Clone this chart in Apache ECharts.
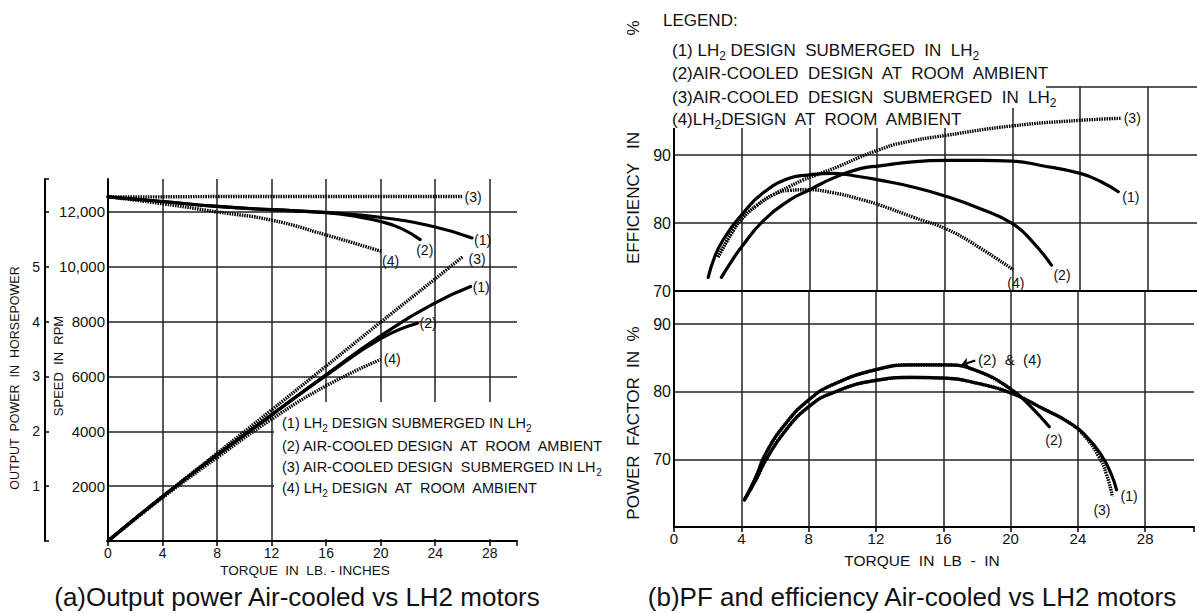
<!DOCTYPE html>
<html><head><meta charset="utf-8">
<script src="https://cdn.jsdelivr.net/npm/echarts@6/dist/echarts.min.js"></script>
<style>html,body{margin:0;padding:0;background:#fff}#c{width:1197px;height:613px}</style>
</head><body><div id="c"></div>
<script>
// ---------- (a) Output power / speed vs torque ----------
const torqueTicksA = [0, 4, 8, 12, 16, 20, 24, 28];
const rpmTicks = [2000, 4000, 6000, 8000, 10000, 12000];
const hpTicks = [1, 2, 3, 4, 5];

const speedTorque1 = [0, 4, 8, 12, 16, 20, 24, 26.7];
const speed1       = [12550, 12380, 12200, 12080, 11980, 11800, 11450, 11050];
const speedTorque2 = [0, 4, 8, 12, 16, 18, 20, 21.5, 22.9];
const speed2       = [12550, 12380, 12200, 12080, 11970, 11850, 11650, 11400, 10990];
const speedTorque3 = [0, 4, 8, 12, 16, 20, 24, 26.0];
const speed3       = [12550, 12550, 12560, 12560, 12560, 12560, 12560, 12560];
const speedTorque4 = [0, 4, 8, 12, 16, 20.1];
const speed4       = [12550, 12300, 12000, 11700, 11160, 10550];

const powerTorque1 = [0, 4, 8, 12, 16, 20, 24, 26.6];
const power1       = [0, 0.81, 1.57, 2.30, 3.03, 3.74, 4.34, 4.64];
const powerTorque2 = [0, 4, 8, 12, 16, 20, 22.7];
const power2       = [0, 0.81, 1.57, 2.30, 3.02, 3.69, 3.97];
const powerTorque3 = [0, 4, 8, 12, 16, 20, 24, 26.0];
const power3       = [0, 0.81, 1.60, 2.39, 3.19, 3.99, 4.78, 5.18];
const powerTorque4 = [0, 4, 8, 12, 16, 20.0];
const power4       = [0, 0.79, 1.52, 2.22, 2.83, 3.31];

// ---------- (b) Efficiency and power factor vs torque ----------
const torqueTicksB = [0, 4, 8, 12, 16, 20, 24, 28];
const effTicks = [70, 80, 90];
const pfTicks = [70, 80, 90];

const effTorque1 = [2.8, 3.3, 4.0, 5.3, 6.85, 7.95, 9.4, 11, 12.15, 14.1, 16.1, 18.1, 20.0, 21.6, 24.0, 25.2, 26.25];
const eff1       = [72.0, 74.0, 76.5, 80.4, 83.4, 84.8, 86.6, 88.0, 88.4, 89.0, 89.2, 89.2, 89.1, 88.5, 87.3, 86.1, 84.6];
const effTorque2 = [2.02, 2.4, 2.9, 4.0, 5.25, 6.85, 7.9, 9.4, 11, 12.15, 14.1, 16.1, 18.1, 20.0, 21.2, 22.3];
const eff2       = [72.0, 75.0, 77.5, 81.2, 84.4, 86.6, 87.05, 87.3, 86.8, 86.3, 85.3, 83.9, 82.1, 79.9, 77.2, 73.8];
const effTorque3 = [2.6, 3.5, 4.0, 4.9, 5.9, 6.85, 7.6, 8.4, 9.8, 11, 12.15, 13.3, 16.1, 20.05, 24.0, 26.45];
const eff3       = [75.0, 78.9, 80.6, 82.6, 84.2, 85.4, 86.3, 87.05, 88.4, 89.7, 90.8, 91.7, 92.9, 94.3, 95.1, 95.4];
const effTorque4 = [2.6, 3.5, 4.0, 4.9, 5.9, 6.85, 7.85, 9.4, 11, 12.2, 14.2, 16.2, 18.1, 20.05];
const eff4       = [75.0, 78.9, 80.6, 82.6, 84.2, 84.8, 84.9, 84.45, 83.5, 82.6, 80.8, 79.0, 76.3, 73.1];

const pfTorque1 = [4.18, 4.87, 5.46, 6.64, 8.02, 9.4, 12.06, 14.1, 16.1, 18.1, 20.03, 22.0, 23.5, 24.5, 25.4, 25.95, 26.3];
const pf1       = [64.0, 67.0, 69.9, 74.3, 77.8, 79.8, 81.7, 82.1, 82.0, 81.2, 79.8, 77.4, 75.4, 73.4, 70.6, 68.0, 65.5];
const pfTorque2 = [4.18, 4.87, 5.46, 6.64, 8.02, 9.4, 12.06, 14.1, 16.1, 18.1, 20.03, 21.2, 22.3];
const pf2       = [64.0, 67.4, 70.9, 75.3, 78.8, 81.0, 83.3, 83.95, 83.95, 83.0, 80.35, 77.8, 74.8];
const pfTorque3 = [4.18, 4.87, 5.46, 6.64, 8.02, 9.4, 12.06, 14.1, 16.1, 18.1, 20.03, 22.0, 23.5, 24.4, 25.2, 25.7, 26.05];
const pf3       = [64.0, 67.0, 69.9, 74.3, 77.8, 79.8, 81.7, 82.1, 82.0, 81.2, 79.8, 77.4, 75.4, 73.4, 70.6, 67.8, 64.5];
const pfTorque4 = [4.18, 4.87, 5.46, 6.64, 8.02, 9.4, 12.06, 14.1, 16.1, 18.1, 20.03];
const pf4       = [64.0, 67.4, 70.9, 75.3, 78.8, 81.0, 83.3, 83.95, 83.95, 83.0, 80.35];
const pfNoteArrow = [[17.05, 83.9], [17.9, 84.6]];

// ---------- styling ----------
const F = '"Liberation Sans", Arial, sans-serif';
const INK = '#111';
const GRIDC = '#222';
const pairs = (xs, ys) => xs.map((x, i) => [x, ys[i]]);

function line(name, xs, ys, xi, yi, dotted, lbl) {
  const s = {
    name, type: 'line', xAxisIndex: xi, yAxisIndex: yi,
    data: pairs(xs, ys), showSymbol: false, symbol: 'none',
    smooth: 0.5, clip: false,
    z: dotted ? 3 : 4,
    lineStyle: dotted
      ? { color: '#000', width: 3.4, type: [1.5, 1], cap: 'butt' }
      : { color: '#000', width: 3.2, cap: 'round' },
    emphasis: { disabled: true }
  };
  if (lbl) {
    s.endLabel = {
      show: true, formatter: lbl.t, color: INK, fontSize: 14, fontFamily: F,
      distance: lbl.d == null ? 2 : lbl.d, offset: lbl.o || [0, 0]
    };
  }
  return s;
}

const axisLine = { show: true, lineStyle: { color: '#000', width: 2 } };
const split = { show: true, lineStyle: { color: GRIDC, width: 1.5 } };

function xAx(gi, max, ticks, showLabel, fs, margin) {
  return {
    type: 'value', gridIndex: gi, min: 0, max: max, interval: 4,
    axisLine: axisLine,
    axisTick: { show: showLabel, length: 5, lineStyle: { color: '#000', width: 1.5 } },
    axisLabel: {
      show: showLabel, color: INK, fontSize: fs, fontFamily: F, margin: margin,
      formatter: v => ticks.includes(v) ? String(v) : ''
    },
    splitLine: Object.assign({ showMaxLine: false }, split)
  };
}

const option = {
  animation: false,
  backgroundColor: '#fff',
  textStyle: { fontFamily: F },
  grid: [
    { left: 108, top: 179, width: 409, height: 362 },
    { left: 674, top: 87, width: 523, height: 204 },
    { left: 674, top: 291, width: 523, height: 236 }
  ],
  xAxis: [
    xAx(0, 30, torqueTicksA, true, 14, 5),
    xAx(1, 30.9, torqueTicksB, false, 15, 3),
    xAx(2, 30.9, torqueTicksB, true, 15, 4)
  ],
  yAxis: [
    { type: 'value', gridIndex: 0, min: 0, max: 13200, interval: 2000,
      axisLine: axisLine, axisTick: { show: false },
      axisLabel: { color: INK, fontSize: 15, fontFamily: F, margin: 3,
        formatter: v => rpmTicks.includes(v) ? (v >= 10000 ? v.toLocaleString('en-US') : String(v)) : '' },
      splitLine: Object.assign({ showMaxLine: false, showMinLine: false }, split) },
    { type: 'value', gridIndex: 0, min: 0, max: 6.6, interval: 1, position: 'left', offset: 63,
      axisLine: axisLine,
      axisTick: { show: true, inside: true, length: 4, lineStyle: { color: '#000', width: 1.5 } },
      axisLabel: { color: INK, fontSize: 14, fontFamily: F, margin: 5,
        formatter: v => hpTicks.includes(v) ? String(v) : '' },
      splitLine: { show: false } },
    { type: 'value', gridIndex: 1, min: 70, max: 100, interval: 10,
      axisLine: axisLine, axisTick: { show: false },
      axisLabel: { color: INK, fontSize: 16, fontFamily: F, margin: 3,
        formatter: v => effTicks.includes(v) ? String(v) : '' },
      splitLine: Object.assign({ showMaxLine: true, showMinLine: false }, split) },
    { type: 'value', gridIndex: 2, min: 60, max: 94.88, interval: 10,
      axisLine: axisLine, axisTick: { show: false },
      axisLabel: { color: INK, fontSize: 16, fontFamily: F, margin: 3,
        formatter: v => pfTicks.includes(v) ? String(v) : '' },
      splitLine: Object.assign({ showMaxLine: false, showMinLine: false }, split) }
  ],
  series: [
    // (a) speed
    line('Speed (3)', speedTorque3, speed3, 0, 0, true, { t: '(3)', d: 2 }),
    line('Speed (4)', speedTorque4, speed4, 0, 0, true, { t: '(4)', d: 0, o: [0, 9] }),
    line('Speed (2)', speedTorque2, speed2, 0, 0, false, { t: '(2)', d: 0, o: [-4, 10] }),
    line('Speed (1)', speedTorque1, speed1, 0, 0, false, { t: '(1)', d: 2, o: [0, 2] }),
    // (a) output power
    line('Power (3)', powerTorque3, power3, 0, 1, true, { t: '(3)', d: 6, o: [0, 2] }),
    line('Power (4)', powerTorque4, power4, 0, 1, true, { t: '(4)', d: 3 }),
    line('Power (2)', powerTorque2, power2, 0, 1, false, { t: '(2)', d: 2 }),
    line('Power (1)', powerTorque1, power1, 0, 1, false, { t: '(1)', d: 2 }),
    // (b) efficiency
    line('Eff (3)', effTorque3, eff3, 1, 2, true, { t: '(3)', d: 2 }),
    line('Eff (4)', effTorque4, eff4, 1, 2, true, { t: '(4)', d: 0, o: [-6, 13] }),
    line('Eff (2)', effTorque2, eff2, 1, 2, false, { t: '(2)', d: 2, o: [0, 10] }),
    line('Eff (1)', effTorque1, eff1, 1, 2, false, { t: '(1)', d: 4, o: [0, 5] }),
    // (b) power factor
    line('PF (4)', pfTorque4, pf4, 2, 3, true, null),
    line('PF (3)', pfTorque3, pf3, 2, 3, true, { t: '(3)', d: 0, o: [-19, 13] }),
    Object.assign(line('PF (2)', pfTorque2, pf2, 2, 3, false, { t: '(2)', d: 0, o: [-4, 13] }), {
      markLine: {
        silent: true, symbol: ['arrow', 'none'], symbolSize: [8, 8], animation: false,
        lineStyle: { color: '#000', width: 2, type: 'solid' },
        label: { show: true, position: 'end', formatter: '(2)  &  (4)', color: INK, fontSize: 15, fontFamily: F, distance: 3 },
        data: [[{ coord: pfNoteArrow[0] }, { coord: pfNoteArrow[1] }]]
      }
    }),
    line('PF (1)', pfTorque1, pf1, 2, 3, false, { t: '(1)', d: 4, o: [0, 6] })
  ],
  graphic: { elements: [] }
};

// white masks where the original grid is interrupted by the legends
const masks = [
  { x: 274, y: 402, width: 256, height: 137 },
  { x: 655, y: 70, width: 352, height: 58 },
  { x: 1007, y: 70, width: 39, height: 38 }
];
masks.forEach(m => option.graphic.elements.push({
  type: 'rect', shape: m, style: { fill: '#fff' }, z: 1, silent: true
}));

function txt(t, x, y, size, opts) {
  opts = opts || {};
  const st = {
    text: t, fill: INK, fontSize: size, fontFamily: F,
    align: opts.align || 'center', verticalAlign: 'middle',
    textAlign: opts.align || 'center', textVerticalAlign: 'middle'
  };
  if (opts.rich) {
    st.lineHeight = opts.lh;
    st.rich = { s: { fontSize: opts.sub, lineHeight: opts.sub, verticalAlign: 'bottom', fill: INK, fontFamily: F } };
  }
  option.graphic.elements.push({
    type: 'text', x: x, y: y, rotation: opts.rot || 0, z: 5, silent: true, style: st
  });
}

// (a) texts
const legendA = [
  '(1) LH{s|2} DESIGN SUBMERGED IN LH{s|2}',
  '(2) AIR-COOLED DESIGN  AT  ROOM  AMBIENT',
  '(3) AIR-COOLED DESIGN  SUBMERGED IN LH{s|2}',
  '(4) LH{s|2} DESIGN  AT  ROOM  AMBIENT'
];
const legendAY = [423, 446, 467, 488];
legendA.forEach((t, i) => txt(t, 282, legendAY[i], 14.5, { align: 'left', rich: true, lh: 20, sub: 10 }));
txt('TORQUE  IN  LB. - INCHES', 305, 570, 13.5);
txt('SPEED  IN  RPM', 58, 366, 13, { rot: Math.PI / 2 });
txt('OUTPUT  POWER  IN  HORSEPOWER', 15, 378, 12.5, { rot: Math.PI / 2 });
txt('(a)Output power Air-cooled vs LH2 motors', 297, 597, 26);

// (b) texts
txt('LEGEND:', 663, 20, 17, { align: 'left' });
const legendB = [
  '(1) LH{s|2} DESIGN  SUBMERGED  IN  LH{s|2}',
  '(2)AIR-COOLED  DESIGN  AT  ROOM  AMBIENT',
  '(3)AIR-COOLED  DESIGN  SUBMERGED  IN  LH{s|2}',
  '(4)LH{s|2}DESIGN  AT  ROOM  AMBIENT'
];
const legendBY = [50, 73, 97, 119];
legendB.forEach((t, i) => txt(t, 672, legendBY[i], 17, { align: 'left', rich: true, lh: 24, sub: 12 }));
txt('EFFICIENCY   IN', 633, 198, 17, { rot: Math.PI / 2 });
txt('%', 633, 28, 17, { rot: Math.PI / 2 });
txt('POWER  FACTOR  IN  %', 633, 423, 17, { rot: Math.PI / 2 });
txt('TORQUE  IN  LB  -  IN', 922, 560, 15.5);
txt('(b)PF and efficiency Air-cooled vs LH2 motors', 912, 597, 26);

const chart = echarts.init(document.getElementById('c'), null, { renderer: 'svg', width: 1197, height: 613 });
chart.setOption(option);
</script>
</body></html>
